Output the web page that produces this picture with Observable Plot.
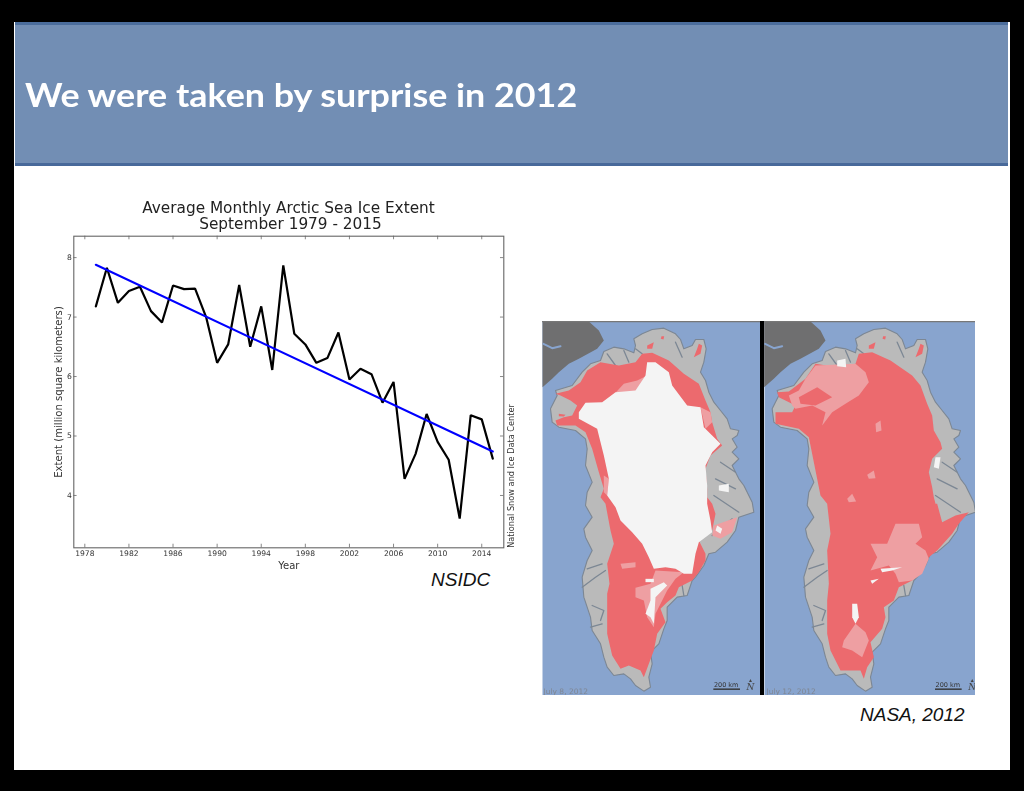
<!DOCTYPE html>
<html>
<head>
<meta charset="utf-8">
<script src="https://cdn.jsdelivr.net/npm/d3@7"></script>
<script src="https://cdn.jsdelivr.net/npm/@observablehq/plot@0.6"></script>
<style>
html,body{margin:0;padding:0;width:1024px;height:791px;overflow:hidden;background:#000;}
#slide{position:absolute;left:14px;top:22px;width:996px;height:748px;background:#fff;}
#band{position:absolute;left:15px;top:22px;width:993px;height:144px;box-sizing:border-box;background:#728eb4;border-top:3px solid #4b6d9c;border-bottom:3px solid #48699a;}
#head{position:absolute;left:25px;top:75px;font:700 32px Lato,sans-serif;color:#fff;white-space:nowrap;transform:scaleX(1.12);transform-origin:left center;}
#ctitle{position:absolute;left:0;top:200px;width:577px;text-align:center;font:15.3px/16px "DejaVu Sans",sans-serif;color:#222;filter:blur(.25px);}
#ctitle span{position:relative;left:2px;}
.credit{position:absolute;font:italic 19px "Liberation Sans",Arial,sans-serif;color:#111;white-space:nowrap;}
.abs{position:absolute;}
.abs svg{display:block;}
</style>
</head>
<body>
<div id="slide"></div>
<div id="band"></div>
<div id="head">We were taken by surprise in 2012</div>
<div id="ctitle">Average Monthly Arctic Sea Ice Extent<br><span>September 1979 - 2015</span></div>
<div id="chart" class="abs" style="left:0;top:190px;filter:blur(.25px)"></div>
<div id="mapA" class="abs" style="left:542px;top:321px;filter:blur(.5px)"></div>
<div id="divider" class="abs" style="left:760px;top:321px;width:4px;height:374px;background:#000"></div>
<div id="mapB" class="abs" style="left:764px;top:321px;filter:blur(.5px)"></div>
<div class="credit" style="left:431px;top:569px">NSIDC</div>
<div class="credit" style="left:860px;top:704px">NASA, 2012</div>
<script>
// Chart values
const years = [1979,1980,1981,1982,1983,1984,1985,1986,1987,1988,1989,1990,1991,1992,1993,1994,1995,1996,1997,1998,1999,2000,2001,2002,2003,2004,2005,2006,2007,2008,2009,2010,2011,2012,2013,2014,2015];
const extent = [7.18,7.83,7.24,7.44,7.51,7.10,6.91,7.53,7.47,7.48,7.00,6.23,6.54,7.54,6.50,7.18,6.11,7.87,6.72,6.54,6.23,6.31,6.74,5.95,6.13,6.04,5.56,5.91,4.28,4.70,5.37,4.90,4.60,3.61,5.35,5.28,4.62];
const trendYears = [1979,2015];
const trendValues = [7.88,4.74];
const xTicks = [1978,1982,1986,1990,1994,1998,2002,2006,2010,2014];
const yTicks = [4,5,6,7,8];
const xDomain = [1977,2016];
const yDomain = [3.12,8.36];

// Map outlines, in map units
const canada = [[21,18],[160,18],[190,45],[205,75],[185,100],[130,130],[100,145],[70,170],[50,190],[21,215]];
const canadaInlet = [[24,85],[50,98],[75,92]];
const land = [[140,170],[165,145],[195,135],[205,108],[235,95],[265,100],[295,112],[300,90],[295,70],[320,55],[350,42],[385,38],[420,55],[435,72],[445,100],[470,90],[480,72],[505,72],[512,100],[505,140],[495,170],[510,195],[520,230],[535,260],[555,285],[575,310],[585,340],[610,345],[605,360],[590,370],[605,395],[590,410],[610,430],[590,450],[610,490],[625,510],[650,560],[655,590],[610,605],[600,645],[575,680],[540,710],[520,715],[505,750],[480,785],[470,795],[455,840],[425,845],[395,875],[395,915],[385,940],[370,985],[345,1010],[350,1045],[340,1085],[345,1115],[325,1127],[300,1110],[285,1090],[265,1075],[235,1080],[215,1055],[205,1025],[195,985],[170,945],[165,905],[145,845],[140,785],[155,735],[170,705],[150,665],[145,640],[170,605],[150,570],[155,530],[170,500],[150,450],[155,400],[150,370],[120,345],[70,335],[50,320],[45,280],[65,240],[60,225],[110,210],[140,170]];
const fjords = [[[155,760],[200,745]],[[140,815],[180,785],[210,765]],[[170,870],[205,885],[195,915]],[[165,935],[200,925]],[[555,440],[600,470]],[[540,490],[600,520]],[[535,540],[610,590]],[[530,660],[590,610]],[[445,840],[440,810]],[[215,115],[240,150]],[[265,105],[280,140]],[[300,100],[320,115]],[[420,80],[440,125]]];
const sharedRed = [
  [[490,85],[500,90],[495,115],[475,125],[485,100]],
  [[335,90],[355,80],[350,100],[335,100]],
  [[378,62],[386,62],[384,72],[376,70]],
  [[70,295],[90,298],[85,303],[70,302]]
];
const redA = [[60,235],[100,225],[135,200],[155,165],[195,140],[250,150],[300,140],[320,115],[350,112],[400,135],[445,175],[490,205],[510,255],[525,290],[530,320],[545,370],[560,390],[525,420],[510,460],[515,520],[515,545],[530,565],[540,595],[530,645],[490,675],[510,715],[510,735],[490,770],[470,795],[430,815],[420,840],[395,860],[375,880],[390,920],[365,955],[355,1005],[340,1045],[325,1085],[315,1065],[280,1050],[255,1060],[230,1020],[215,955],[215,885],[215,835],[222,805],[215,745],[235,685],[225,645],[210,565],[195,545],[205,520],[190,470],[170,400],[150,350],[120,330],[65,330],[60,315],[85,305],[110,300],[125,270],[105,255],[75,240]];
const paleA = [
  [[240,232],[265,205],[305,195],[335,180],[330,210],[300,235]],
  [[495,275],[525,290],[530,320],[510,340]],
  [[205,480],[220,490],[215,540],[205,530]],
  [[300,817],[345,805],[360,765],[445,770],[420,790],[395,825],[380,855],[360,895],[355,935],[335,905],[325,855],[300,845]],
  [[535,630],[605,605],[590,650],[555,670],[530,660]],
  [[255,745],[300,740],[300,755],[260,760]]
];
const iceA = [[130,290],[150,262],[200,260],[240,230],[300,225],[330,180],[335,140],[360,140],[400,170],[410,210],[455,270],[495,275],[505,335],[530,360],[555,385],[530,410],[510,450],[515,510],[515,565],[525,615],[530,650],[490,680],[480,715],[470,775],[445,775],[420,760],[390,755],[355,760],[340,725],[320,685],[290,650],[255,615],[240,575],[215,540],[220,490],[205,420],[185,340],[130,310]];
const spotsA = [
  [[330,790],[355,790],[355,800],[330,800]],
  [[345,820],[385,800],[395,810],[360,845],[355,925],[345,905],[330,895],[345,855]],
  [[545,630],[560,640],[555,655],[540,645]],
  [[550,510],[580,505],[580,530],[550,525]]
];
const redB = [[65,230],[100,228],[150,190],[180,145],[245,155],[300,145],[310,115],[350,110],[405,135],[470,180],[495,210],[515,265],[530,300],[535,345],[555,380],[560,400],[530,430],[520,470],[530,515],[535,545],[540,565],[545,565],[560,620],[600,600],[640,590],[610,625],[590,655],[545,705],[520,725],[500,765],[470,795],[430,815],[415,855],[385,875],[390,905],[380,940],[345,980],[355,1025],[335,1055],[325,1090],[315,1065],[280,1065],[255,1065],[225,1005],[215,955],[215,855],[220,805],[215,705],[225,655],[215,565],[195,540],[175,440],[160,365],[130,340],[60,325],[60,290],[110,290],[120,270],[70,245]];
const paleB = [
  [[180,150],[300,145],[330,170],[340,200],[310,240],[270,265],[230,290],[200,330],[210,290],[170,270],[120,280],[110,270],[100,240],[130,225],[150,190]],
  [[395,685],[420,625],[490,625],[500,665],[480,685],[510,705],[520,730],[500,775],[470,795],[430,800],[420,775],[400,750],[345,765],[365,725],[345,685]],
  [[265,975],[300,925],[330,950],[340,975],[320,1025],[290,1005],[260,995]],
  [[360,325],[375,315],[378,345],[362,350]],
  [[335,478],[355,465],[360,488],[340,490]],
  [[275,550],[290,535],[302,558],[280,560]]
];
const redInPaleB = [[130,245],[185,215],[230,245],[180,270],[135,265]];
const spotsB = [
  [[290,865],[305,865],[310,905],[300,925],[290,905]],
  [[375,760],[440,755],[410,765],[380,770]],
  [[345,795],[370,790],[350,805]],
  [[245,135],[270,130],[272,155],[245,152]],
  [[540,425],[555,425],[550,460],[535,455]]
];
const captionA = "July 8, 2012";
const captionB = "July 12, 2012";
const scaleText = "200 km";

// Colours
const ocean = "#88a4ce", rock = "#6f6f70", iceSheet = "#bababa", coast = "#7c8794";
const melt = "#ec6a6e", pale = "#ee9fa2", white = "#f4f4f4";

const Y = d => d[1];
const table = years.map((y,i)=>({year:y,value:extent[i]}));
const trend = trendYears.map((y,i)=>({year:y,value:trendValues[i]}));
const tickInk = "#555";

document.getElementById("chart").append(Plot.plot({
  width:530,height:400,marginLeft:73.3,marginRight:26.7,marginTop:45.7,marginBottom:42.7,
  style:{background:"transparent",fontFamily:"DejaVu Sans"},
  x:{domain:xDomain,axis:null},
  y:{domain:yDomain,axis:null},
  marks:[
    Plot.axisX(xTicks,{anchor:"bottom",tickSize:0,tickPadding:3,label:null,tickFormat:d=>String(d),fontSize:7.6,fill:"#333"}),
    Plot.axisY(yTicks,{anchor:"left",tickSize:0,tickPadding:2,label:null,tickFormat:d=>String(d),fontSize:7.6,fill:"#333"}),
    Plot.ruleX(xTicks,{x:d=>d,y1:yDomain[0],y2:yDomain[0]+0.06,stroke:tickInk,strokeWidth:.7}),
    Plot.ruleX(xTicks,{x:d=>d,y1:yDomain[1],y2:yDomain[1]-0.06,stroke:tickInk,strokeWidth:.7}),
    Plot.ruleY(yTicks,{y:d=>d,x1:xDomain[0],x2:xDomain[0]+0.3,stroke:tickInk,strokeWidth:.7}),
    Plot.ruleY(yTicks,{y:d=>d,x1:xDomain[1],x2:xDomain[1]-0.3,stroke:tickInk,strokeWidth:.7}),
    Plot.line(table,{x:"year",y:"value",stroke:"#000",strokeWidth:2.2,strokeLinejoin:"miter"}),
    Plot.line(trend,{x:"year",y:"value",stroke:"#0000ff",strokeWidth:2.1}),
    Plot.frame({stroke:"#666",strokeWidth:1.1}),
    Plot.text(["Year"],{frameAnchor:"bottom",dy:18,lineAnchor:"middle",fontSize:10,fill:"#333"}),
    Plot.text(["Extent (million square kilometers)"],{frameAnchor:"left",dx:-15,rotate:-90,textAnchor:"middle",lineAnchor:"middle",fontSize:10.1,fill:"#333"}),
    Plot.text(["National Snow and Ice Data Center"],{frameAnchor:"bottom-right",dx:8,rotate:-90,textAnchor:"start",lineAnchor:"middle",fontSize:8.2,fill:"#333"})
  ]
}));

function poly(pts,fill,dx=0,extra={}){
  return Plot.line(pts,{x:d=>d[0]+dx,y:Y,fill,stroke:"none",...extra});
}
function panel(id,w,xd,shift,red,paleShapes,ice,spots,extraRed,caption,capX){
  const marks=[
    Plot.frame({fill:ocean,stroke:"none"}),
    poly(canada,rock,shift),
    Plot.line(canadaInlet,{x:d=>d[0]+shift,y:Y,stroke:ocean,strokeWidth:2}),
    poly(land,iceSheet,shift,{stroke:coast,strokeWidth:1.1}),
    ...fjords.map(f=>Plot.line(f,{x:d=>d[0]+shift,y:Y,stroke:coast,strokeWidth:1.3})),
    ...sharedRed.map(s=>poly(s,melt,shift)),
    poly(red,melt)
  ];
  paleShapes.forEach(s=>marks.push(poly(s,pale)));
  if(extraRed) marks.push(poly(extraRed,melt));
  if(ice) marks.push(poly(ice,white));
  spots.forEach(s=>marks.push(poly(s,white)));
  marks.push(
    Plot.text([caption],{x:capX,y:1128,textAnchor:"start",fontSize:7.5,fill:"#7f8794",fontFamily:"DejaVu Sans"}),
    Plot.text([scaleText],{x:572+shift,y:1107,fontSize:6.5,fill:"#333",fontFamily:"DejaVu Sans"}),
    Plot.ruleY([1121],{x1:535+shift,x2:615+shift,stroke:"#333",strokeWidth:1.4}),
    Plot.text(["N"],{x:645+shift,y:1115,fontSize:9,fontStyle:"italic",fill:"#444",fontFamily:"DejaVu Serif"}),
    Plot.text(["▲"],{x:645+shift,y:1095,fontSize:5,fill:"#444"}),
    Plot.ruleY([18],{stroke:"#777",strokeWidth:1.5})
  );
  document.getElementById(id).append(Plot.plot({
    width:w,height:374,margin:0,
    style:{background:"transparent"},
    x:{domain:xd,axis:null},
    y:{domain:[1140,18],axis:null},
    marks
  }));
}
panel("mapA",218,[21,675],0,redA,paleA,iceA,spotsA,null,captionA,24);
panel("mapB",211,[27,660],5,redB,paleB,null,spotsB,redInPaleB,captionB,33);
</script>
</body>
</html>
